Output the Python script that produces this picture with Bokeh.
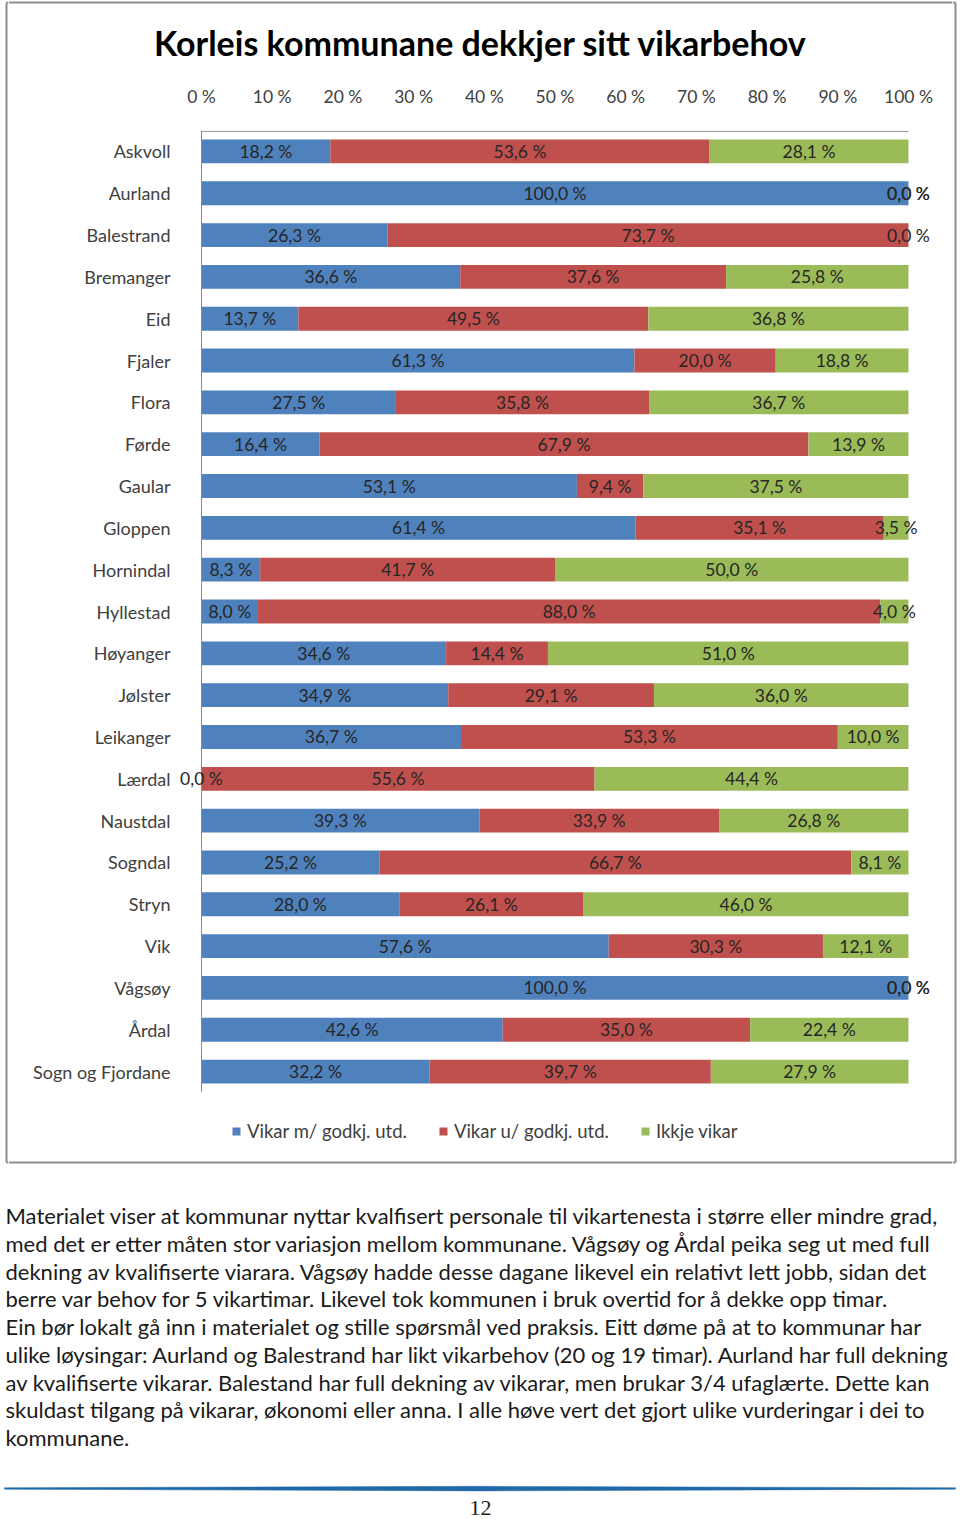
from bokeh.plotting import figure
from bokeh.layouts import column, row
from bokeh.models import (ColumnDataSource, FactorRange, Range1d, LabelSet,
                          CustomJSTickFormatter)
from bokeh.core.properties import value
from bokeh.embed import file_html
from bokeh.resources import INLINE

# ---------------- data ----------------
kommunar = ["Askvoll", "Aurland", "Balestrand", "Bremanger", "Eid", "Fjaler", "Flora",
            "Førde", "Gaular", "Gloppen", "Hornindal", "Hyllestad", "Høyanger", "Jølster",
            "Leikanger", "Lærdal", "Naustdal", "Sogndal", "Stryn", "Vik", "Vågsøy", "Årdal",
            "Sogn og Fjordane"]
vikar_m = [18.2, 100.0, 26.3, 36.6, 13.7, 61.3, 27.5, 16.4, 53.1, 61.4, 8.3, 8.0, 34.6, 34.9,
           36.7, 0.0, 39.3, 25.2, 28.0, 57.6, 100.0, 42.6, 32.2]
vikar_u = [53.6, 0.0, 73.7, 37.6, 49.5, 20.0, 35.8, 67.9, 9.4, 35.1, 41.7, 88.0, 14.4, 29.1,
           53.3, 55.6, 33.9, 66.7, 26.1, 30.3, 0.0, 35.0, 39.7]
ikkje = [28.1, 0.0, 0.0, 25.8, 36.8, 18.8, 36.7, 13.9, 37.5, 3.5, 50.0, 4.0, 51.0, 36.0,
         10.0, 44.4, 26.8, 8.1, 46.0, 12.1, 0.0, 22.4, 27.9]
series_names = ["Vikar m/ godkj. utd.", "Vikar u/ godkj. utd.", "Ikkje vikar"]
colors = ["#4F81BD", "#C0504D", "#9BBB59"]
x_ticks = [0, 10, 20, 30, 40, 50, 60, 70, 80, 90, 100]

title_text = "Korleis kommunane dekkjer sitt vikarbehov"
paragraph = [
    "Materialet viser at kommunar nyttar kvalfisert personale til vikartenesta i større eller mindre grad,",
    "med det er etter måten stor variasjon mellom kommunane. Vågsøy og Årdal peika seg ut med full",
    "dekning av kvalifiserte viarara. Vågsøy hadde desse dagane  likevel ein relativt lett jobb, sidan det",
    "berre var behov for 5 vikartimar. Likevel tok kommunen i bruk overtid for å dekke opp timar.",
    "Ein bør lokalt gå inn i materialet og stille spørsmål ved praksis. Eitt døme på at to kommunar har",
    "ulike løysingar: Aurland og Balestrand har likt vikarbehov (20 og 19 timar). Aurland har full dekning",
    "av kvalifiserte vikarar. Balestand har full dekning av vikarar, men brukar 3/4 ufaglærte. Dette kan",
    "skuldast tilgang på vikarar, økonomi eller anna. I alle høve vert det gjort ulike vurderingar i dei to",
    "kommunane.",
]
page_number = "12"

# ---------------- styling constants ----------------
FONT = "Lato"
BOX = "#8d8d8d"
TXT = "#404040"

# ---------------- derived (100 % stacked) ----------------
n_m, n_u, n_i = [], [], []
for a, b, c in zip(vikar_m, vikar_u, ikkje):
    s = a + b + c
    n_m.append(a / s * 100)
    n_u.append(b / s * 100)
    n_i.append(c / s * 100)
src = ColumnDataSource(dict(name=kommunar, m=n_m, u=n_u, i=n_i))

lx, ly, lt = [], [], []
for k, a, b, c, ra, rb, rc in zip(kommunar, n_m, n_u, n_i, vikar_m, vikar_u, ikkje):
    for st, w, raw in zip([0, a, a + b], [a, b, c], [ra, rb, rc]):
        lx.append(st + w / 2)
        ly.append(k)
        lt.append(f"{raw:.1f} %".replace(".", ","))
lab_src = ColumnDataSource(dict(x=lx, y=ly, t=lt))


def blank(width, height, xr, yr):
    f = figure(width=width, height=height, output_backend="svg", toolbar_location=None,
               x_range=Range1d(*xr), y_range=Range1d(*yr),
               x_axis_location=None, y_axis_location=None, min_border=0)
    f.grid.visible = False
    f.outline_line_color = None
    f.background_fill_color = "white"
    f.border_fill_color = "white"
    return f


TOP_H, CHART_H, BOT_H = 80, 1020, 64
BOX_H = TOP_H + CHART_H + BOT_H  # 1164
BOX_BOTTOM = 1162

# ---------------- box strips (left / right border of chart box) ----------------
left_strip = blank(8, BOX_H, (0, 8), (BOX_H, 0))
left_strip.segment(x0=[6, 6, 6], y0=[2, 2, BOX_BOTTOM], x1=[6, 8, 8], y1=[BOX_BOTTOM, 2, BOX_BOTTOM],
                   line_color=BOX, line_width=2)
right_strip = blank(8, BOX_H, (952, 960), (BOX_H, 0))
right_strip.segment(x0=[955, 952, 952], y0=[2, 2, BOX_BOTTOM], x1=[955, 955, 955],
                    y1=[BOX_BOTTOM, 2, BOX_BOTTOM], line_color=BOX, line_width=2)

# ---------------- title area ----------------
fig_title = blank(944, TOP_H, (8, 952), (TOP_H, 0))
fig_title.segment(x0=[8], y0=[2], x1=[952], y1=[2], line_color=BOX, line_width=2)
fig_title.text(x=[480], y=[42], text=[title_text], text_align="center",
               text_baseline="middle", text_font=value(FONT), text_font_style="bold",
               text_font_size="34px", text_color="black")

# ---------------- chart ----------------
PLOT_L, PLOT_R = 201, 908          # pixel positions of 0 % and 100 %
FRAME_L, FRAME_R = 176, 952
ppu = (PLOT_R - PLOT_L) / 100.0
x_start = -(PLOT_L - FRAME_L) / ppu
x_end = 100 + (FRAME_R - PLOT_R) / ppu

p = figure(width=944, height=CHART_H, output_backend="svg", toolbar_location=None,
           y_range=FactorRange(factors=list(reversed(kommunar)), range_padding=0),
           x_range=Range1d(x_start, x_end), x_axis_location="above",
           min_border_left=FRAME_L - 8, min_border_right=0, min_border_top=50,
           min_border_bottom=8)
p.outline_line_color = None
p.background_fill_color = "white"
p.border_fill_color = "white"
p.xgrid.grid_line_color = None
p.ygrid.grid_line_color = None

bars = p.hbar_stack(["m", "u", "i"], y="name", height=0.57, color=colors, source=src,
                    line_color=None)

# axis lines (drawn from 0 % to 100 % only)
p.segment(x0=[0, 0], y0=[("Sogn og Fjordane", -0.5), ("Askvoll", 0.48)],
          x1=[0, 100], y1=[("Askvoll", 0.5), ("Askvoll", 0.48)],
          line_color=BOX, line_width=1)

xa = p.xaxis[0]
xa.ticker = x_ticks
xa.formatter = CustomJSTickFormatter(code="return tick.toFixed(0) + ' %';")
xa.axis_line_color = None
xa.major_tick_line_color = None
xa.minor_tick_line_color = None
xa.major_tick_out = 0
xa.major_label_standoff = 24
xa.major_label_text_font = FONT
xa.major_label_text_font_size = "17.5px"
xa.major_label_text_color = TXT

ya = p.yaxis[0]
ya.axis_line_color = None
ya.major_tick_line_color = None
ya.minor_tick_line_color = None
ya.major_tick_out = 0
ya.major_label_standoff = 6
ya.major_label_text_font = FONT
ya.major_label_text_font_size = "18px"
ya.major_label_text_color = TXT

p.add_layout(LabelSet(x="x", y="y", text="t", source=lab_src, text_align="center",
                      text_baseline="middle", text_font=value(FONT),
                      text_font_size=value("17.5px"), text_color=value("#262626")))

# ---------------- legend area (keys only: zero-size proxies) ----------------
fig_bot = blank(944, BOT_H, (8, 952), (TOP_H + CHART_H + BOT_H, TOP_H + CHART_H))
fig_bot.segment(x0=[8], y0=[BOX_BOTTOM], x1=[952], y1=[BOX_BOTTOM], line_color=BOX,
                line_width=2)
for name, col in zip(series_names, colors):
    fig_bot.hbar(y=[0], left=[0], right=[0], height=0, fill_color=col, line_color=None,
                 legend_label=name)
lg = fig_bot.legend[0]
lg.orientation = "horizontal"
lg.location = (223, 22)
lg.border_line_color = None
lg.background_fill_alpha = 0
lg.label_text_font = FONT
lg.label_text_font_size = "18.5px"
lg.label_text_color = TXT
lg.glyph_width = 10
lg.glyph_height = 10
lg.label_standoff = 6
lg.spacing = 31
lg.padding = 0
lg.margin = 0

# ---------------- text below ----------------
TEXT_TOP = BOX_H
TEXT_H = 1519 - TEXT_TOP
fig_text = blank(960, TEXT_H, (0, 960), (1519, TEXT_TOP))
fig_text.text(x=[5] * len(paragraph), y=[1215 + i * 27.75 for i in range(len(paragraph))],
              text=paragraph, text_align="left", text_baseline="middle",
              text_font=value(FONT), text_font_size="22px", text_color="#1a1a1a")
fig_text.patch(x=[4, 480, 955, 955, 480, 4],
               y=[1487.3, 1485.8, 1487.3, 1488.7, 1490.4, 1488.7],
               fill_color="#1f69a6", line_color="#1f69a6", line_width=0.5)
fig_text.text(x=[480], y=[1507], text=[page_number], text_align="center",
              text_baseline="middle", text_font=value("Liberation Serif"),
              text_font_size="22px", text_color="#222222")

layout = column(row(left_strip, column(fig_title, row(p), fig_bot), right_strip), fig_text)

open("out.html", "w").write(file_html(layout, INLINE))
